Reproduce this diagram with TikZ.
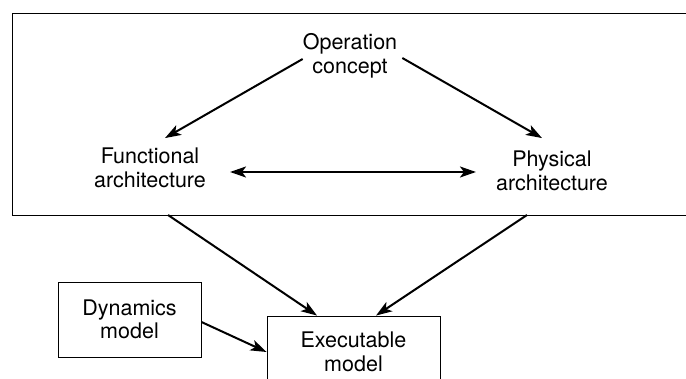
\documentclass[tikz,border=0pt]{standalone}
\usepackage{fontspec}
\setmainfont{TeX Gyre Heros}
\usetikzlibrary{positioning,arrows.meta}

\begin{document}
\begin{tikzpicture}[
  x=1pt,y=-1pt,
  >={Stealth[length=16pt,width=11pt,inset=4pt]},
  font=\fontsize{21.5}{23.5}\selectfont,
  flow/.style={draw,line width=2pt,->},
  frame/.style={draw,line width=0.9pt},
  txt/.style={align=center,inner sep=0pt},
  box/.style={draw,line width=0.9pt,align=center,inner sep=0pt}]

% --- page size as in the reference ---
\useasboundingbox (0,0) rectangle (686,379);

% --- the enclosing frame (right edge runs off the page) ---
\draw[frame] (12,13) rectangle (692,215);
\coordinate (fout) at (168,215);  % functional leaves the frame
\coordinate (pout) at (527,215);  % physical leaves the frame

% --- labels inside the frame ---
\node[txt] (op)   at (350,56)  {Operation\\concept};
\node[txt] (func) at (150,168) {Functional\\architecture};
\node[txt] (phys) at (552,171) {Physical\\architecture};

% --- boxes below ---
\node[box,minimum width=143pt,minimum height=75pt] (dyn)  at (129.5,319.5) {Dynamics\\model};
\node[box,minimum width=173pt,minimum height=72pt] (exec) at (353.5,352)   {Executable\\model};

% --- connectors ---
\draw[flow] ([yshift=-3pt]op.west) -- ([xshift=15pt,yshift=10pt]func.north);
\draw[flow] ([xshift=5pt,yshift=-2pt]op.east) -- ([xshift=-10pt,yshift=13pt]phys.north);
\draw[flow,<->] ([xshift=24pt,yshift=-4pt]func.east) -- ([xshift=-20pt,yshift=-1pt]phys.west);
\draw[flow] (fout) -- ([xshift=-36.5pt]exec.north);
\draw[flow] (pout) -- ([xshift=22.5pt]exec.north);
\draw[flow] ([yshift=-2.5pt]dyn.east) -- (exec.west);

\end{tikzpicture}
\end{document}
